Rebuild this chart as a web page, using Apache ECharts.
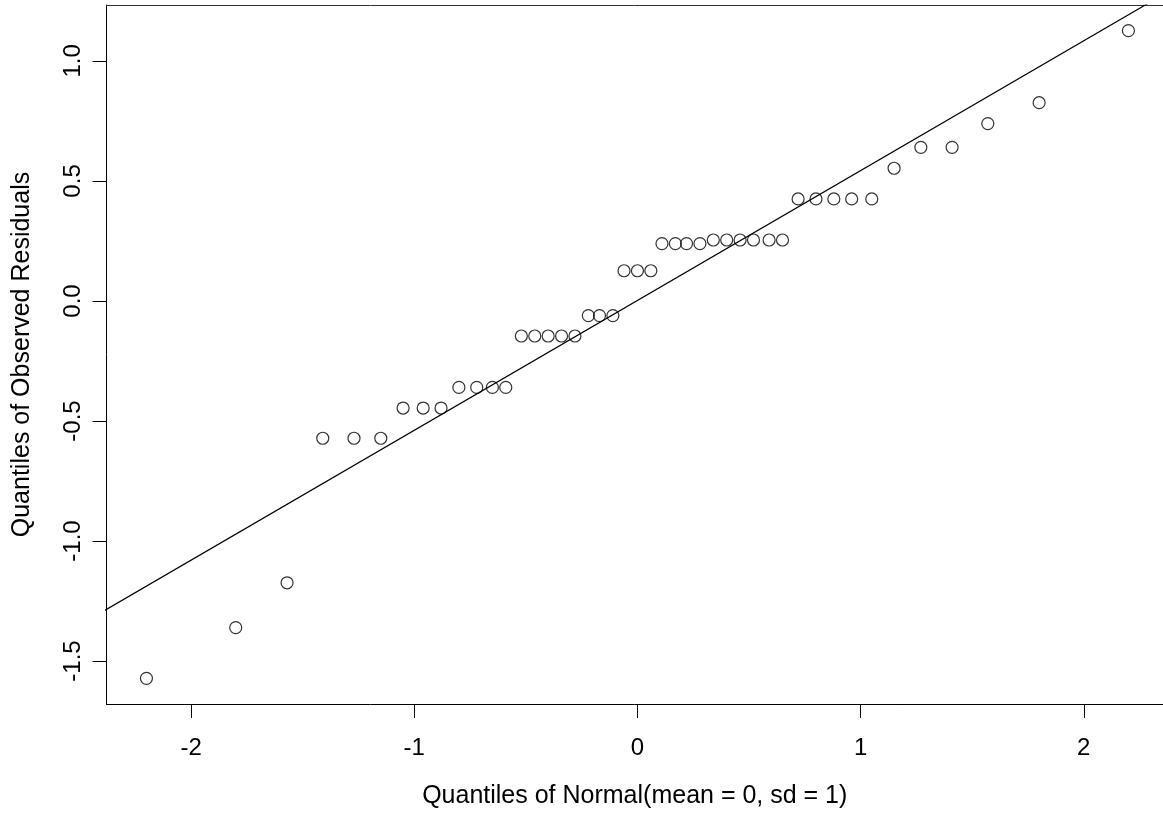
<!DOCTYPE html>
<html>
<head>
<meta charset="utf-8">
<script src="https://cdn.jsdelivr.net/npm/echarts@6/dist/echarts.min.js"></script>
<style>
  html, body { margin: 0; padding: 0; background: #fff; }
  #chart { width: 1163px; height: 815px; }
</style>
</head>
<body>
<div id="chart"></div>
<script>
// theoretical normal quantiles (x) and observed residual quantiles (y)
const normalQuantiles = [
  -2.20, -1.80, -1.57, -1.41, -1.27, -1.15, -1.05, -0.96, -0.88, -0.80,
  -0.72, -0.65, -0.59, -0.52, -0.46, -0.40, -0.34, -0.28, -0.22, -0.17,
  -0.11, -0.06, 0.00, 0.06, 0.11, 0.17, 0.22, 0.28, 0.34, 0.40,
  0.46, 0.52, 0.59, 0.65, 0.72, 0.80, 0.88, 0.96, 1.05, 1.15,
  1.27, 1.41, 1.57, 1.80, 2.20
]
const observedResiduals = [
  -1.572, -1.361, -1.174, -0.572, -0.572, -0.572, -0.446, -0.446, -0.446, -0.360,
  -0.360, -0.360, -0.360, -0.146, -0.146, -0.146, -0.146, -0.146, -0.061, -0.061,
  -0.061, 0.126, 0.126, 0.126, 0.239, 0.239, 0.239, 0.239, 0.254, 0.254,
  0.254, 0.254, 0.254, 0.254, 0.425, 0.425, 0.425, 0.425, 0.425, 0.553,
  0.640, 0.640, 0.739, 0.826, 1.126
]

// reference line (qqline)
const lineIntercept = 0.002
const lineSlope = 0.541

const xTicks = [-2, -1, 0, 1, 2]
const yTicks = [-1.5, -1.0, -0.5, 0.0, 0.5, 1.0]

// the plot box runs past the right edge of the window, so the x range is cut there
const xMin = -2.379
const xMax = 2.355
const yMin = -1.679
const yMax = 1.233

const font = '"Liberation Sans", Arial, sans-serif'

const chart = echarts.init(document.getElementById('chart'))

const points = normalQuantiles.map((x, i) => [x, observedResiduals[i]])
const linePts = [xMin - 0.5, xMax + 0.5].map(x => [x, lineIntercept + lineSlope * x])

chart.setOption({
  animation: false,
  grid: {
    left: 106.5,
    right: 0,
    top: 5,
    bottom: 111
  },
  xAxis: [{
    type: 'value',
    min: xMin,
    max: xMax,
    name: 'Quantiles of Normal(mean = 0, sd = 1)',
    nameLocation: 'middle',
    nameGap: 80,
    nameTextStyle: { fontFamily: font, fontSize: 25, color: '#000' },
    splitLine: { show: false },
    axisLine: { onZero: false, lineStyle: { color: '#000', width: 1 } },
    axisTick: { show: true, inside: false, length: 14, customValues: xTicks, lineStyle: { color: '#000' } },
    axisLabel: {
      customValues: xTicks,
      margin: 32,
      fontFamily: font,
      fontSize: 24,
      color: '#000'
    }
  }, {
    // top side of the box
    type: 'value',
    position: 'top',
    min: xMin,
    max: xMax,
    splitLine: { show: false },
    axisLine: { onZero: false, lineStyle: { color: '#333', width: 1 } },
    axisTick: { show: false },
    axisLabel: { show: false }
  }],
  yAxis: {
    type: 'value',
    min: yMin,
    max: yMax,
    name: 'Quantiles of Observed Residuals',
    nameLocation: 'middle',
    nameGap: 72,
    nameRotate: 90,
    nameTextStyle: { fontFamily: font, fontSize: 25, color: '#000' },
    splitLine: { show: false },
    axisLine: { onZero: false, lineStyle: { color: '#000', width: 1 } },
    axisTick: { show: true, inside: false, length: 14, customValues: yTicks, lineStyle: { color: '#000' } },
    axisLabel: {
      customValues: yTicks,
      rotate: 90,
      margin: 21,
      fontFamily: font,
      fontSize: 24,
      color: '#000',
      formatter: v => v.toFixed(1)
    }
  },
  series: [
    {
      type: 'line',
      data: linePts,
      symbol: 'none',
      clip: true,
      lineStyle: { color: '#000', width: 1.2 },
      silent: true
    },
    {
      type: 'scatter',
      data: points,
      symbol: 'circle',
      symbolSize: 12,
      itemStyle: { color: 'transparent', borderColor: '#000', borderWidth: 1.2 }
    }
  ]
})
</script>
</body>
</html>
